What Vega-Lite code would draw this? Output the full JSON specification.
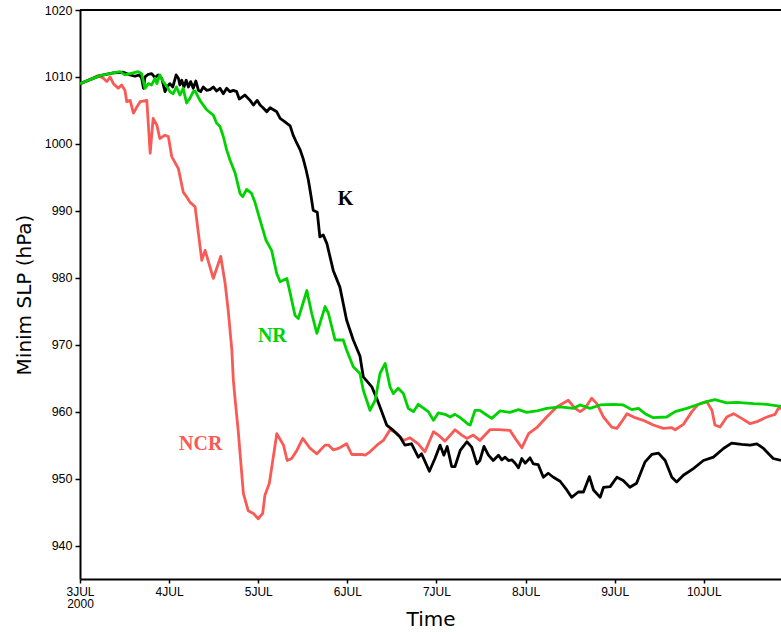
{
  "$schema": "https://vega.github.io/schema/vega-lite/v6.json",
  "width": 701,
  "height": 569,
  "autosize": {"type": "none"},
  "padding": {"left": 80, "top": 10, "right": 0, "bottom": 53},
  "background": "white",
  "config": {"view": {"stroke": null}, "font": "Liberation Sans"},
  "datasets": {
    "series": [
      {"run":"NCR","hour":0,"slp":1009.0},{"run":"NCR","hour":2.7,"slp":1009.6},{"run":"NCR","hour":4.0,"slp":1010.0},{"run":"NCR","hour":4.9,"slp":1010.2},{"run":"NCR","hour":6.3,"slp":1009.8},{"run":"NCR","hour":7.2,"slp":1009.3},{"run":"NCR","hour":8.1,"slp":1010.0},{"run":"NCR","hour":9.0,"slp":1009.0},{"run":"NCR","hour":10.3,"slp":1008.3},{"run":"NCR","hour":11.2,"slp":1008.8},{"run":"NCR","hour":12.1,"slp":1008.0},{"run":"NCR","hour":12.6,"slp":1006.3},{"run":"NCR","hour":13.5,"slp":1006.5},{"run":"NCR","hour":14.4,"slp":1004.6},{"run":"NCR","hour":15.3,"slp":1005.5},{"run":"NCR","hour":16.2,"slp":1006.3},{"run":"NCR","hour":18.0,"slp":1006.5},{"run":"NCR","hour":18.9,"slp":998.6},{"run":"NCR","hour":19.7,"slp":1003.8},{"run":"NCR","hour":20.7,"slp":1002.8},{"run":"NCR","hour":21.5,"slp":1000.8},{"run":"NCR","hour":22.9,"slp":1001.3},{"run":"NCR","hour":23.8,"slp":1001.1},{"run":"NCR","hour":24.7,"slp":998.1},{"run":"NCR","hour":26.5,"slp":996.3},{"run":"NCR","hour":27.8,"slp":992.8},{"run":"NCR","hour":28.7,"slp":992.1},{"run":"NCR","hour":29.6,"slp":991.3},{"run":"NCR","hour":31.0,"slp":990.6},{"run":"NCR","hour":31.9,"slp":986.6},{"run":"NCR","hour":32.8,"slp":982.6},{"run":"NCR","hour":33.7,"slp":984.1},{"run":"NCR","hour":35.9,"slp":979.9},{"run":"NCR","hour":37.9,"slp":983.2},{"run":"NCR","hour":39.1,"slp":979.1},{"run":"NCR","hour":39.9,"slp":975.2},{"run":"NCR","hour":40.9,"slp":969.2},{"run":"NCR","hour":41.3,"slp":964.7},{"run":"NCR","hour":41.8,"slp":961.7},{"run":"NCR","hour":42.6,"slp":957.2},{"run":"NCR","hour":44.0,"slp":947.8},{"run":"NCR","hour":45.3,"slp":945.2},{"run":"NCR","hour":46.7,"slp":944.8},{"run":"NCR","hour":48.0,"slp":944.0},{"run":"NCR","hour":49.2,"slp":944.8},{"run":"NCR","hour":49.8,"slp":947.5},{"run":"NCR","hour":51.0,"slp":949.3},{"run":"NCR","hour":53.0,"slp":956.7},{"run":"NCR","hour":54.8,"slp":955.0},{"run":"NCR","hour":55.8,"slp":952.7},{"run":"NCR","hour":57.0,"slp":953.0},{"run":"NCR","hour":58.4,"slp":954.2},{"run":"NCR","hour":60.0,"slp":956.0},{"run":"NCR","hour":62.0,"slp":954.5},{"run":"NCR","hour":63.8,"slp":953.7},{"run":"NCR","hour":66.0,"slp":955.0},{"run":"NCR","hour":66.9,"slp":955.0},{"run":"NCR","hour":68.2,"slp":954.3},{"run":"NCR","hour":69.6,"slp":954.5},{"run":"NCR","hour":71.8,"slp":955.2},{"run":"NCR","hour":73.2,"slp":953.6},{"run":"NCR","hour":75.9,"slp":953.6},{"run":"NCR","hour":76.8,"slp":953.5},{"run":"NCR","hour":78.1,"slp":954.0},{"run":"NCR","hour":80.4,"slp":955.2},{"run":"NCR","hour":81.7,"slp":955.7},{"run":"NCR","hour":83.5,"slp":957.3},{"run":"NCR","hour":85.3,"slp":956.8},{"run":"NCR","hour":87.1,"slp":955.7},{"run":"NCR","hour":88.9,"slp":956.1},{"run":"NCR","hour":91.1,"slp":955.2},{"run":"NCR","hour":92.9,"slp":954.0},{"run":"NCR","hour":95.2,"slp":957.0},{"run":"NCR","hour":96.5,"slp":956.5},{"run":"NCR","hour":98.3,"slp":955.6},{"run":"NCR","hour":101.0,"slp":957.3},{"run":"NCR","hour":102.8,"slp":956.5},{"run":"NCR","hour":104.2,"slp":956.0},{"run":"NCR","hour":105.9,"slp":956.5},{"run":"NCR","hour":107.7,"slp":955.7},{"run":"NCR","hour":110.4,"slp":957.3},{"run":"NCR","hour":112.7,"slp":957.3},{"run":"NCR","hour":115.8,"slp":957.2},{"run":"NCR","hour":117.6,"slp":955.7},{"run":"NCR","hour":119.0,"slp":954.6},{"run":"NCR","hour":120.8,"slp":956.7},{"run":"NCR","hour":123.0,"slp":957.6},{"run":"NCR","hour":125.7,"slp":959.2},{"run":"NCR","hour":128.4,"slp":960.7},{"run":"NCR","hour":131.5,"slp":961.7},{"run":"NCR","hour":133.3,"slp":960.5},{"run":"NCR","hour":134.7,"slp":960.0},{"run":"NCR","hour":136.0,"slp":960.5},{"run":"NCR","hour":137.8,"slp":962.0},{"run":"NCR","hour":139.2,"slp":961.2},{"run":"NCR","hour":141.0,"slp":959.2},{"run":"NCR","hour":143.2,"slp":957.7},{"run":"NCR","hour":144.6,"slp":957.5},{"run":"NCR","hour":145.9,"slp":958.5},{"run":"NCR","hour":147.3,"slp":959.7},{"run":"NCR","hour":149.5,"slp":959.1},{"run":"NCR","hour":151.7,"slp":958.7},{"run":"NCR","hour":154.4,"slp":958.0},{"run":"NCR","hour":157.1,"slp":957.5},{"run":"NCR","hour":159.4,"slp":957.6},{"run":"NCR","hour":160.3,"slp":957.3},{"run":"NCR","hour":162.5,"slp":958.1},{"run":"NCR","hour":164.8,"slp":960.0},{"run":"NCR","hour":166.5,"slp":961.1},{"run":"NCR","hour":168.8,"slp":961.5},{"run":"NCR","hour":170.2,"slp":960.2},{"run":"NCR","hour":171.0,"slp":958.0},{"run":"NCR","hour":172.4,"slp":957.7},{"run":"NCR","hour":174.2,"slp":959.2},{"run":"NCR","hour":176.0,"slp":959.7},{"run":"NCR","hour":178.2,"slp":959.0},{"run":"NCR","hour":180.5,"slp":958.2},{"run":"NCR","hour":182.3,"slp":958.5},{"run":"NCR","hour":185.0,"slp":959.2},{"run":"NCR","hour":187.2,"slp":959.6},{"run":"NCR","hour":188.1,"slp":960.5},{"run":"NCR","hour":188.8,"slp":960.5},
      {"run":"K","hour":0,"slp":1009.0},{"run":"K","hour":2.7,"slp":1009.6},{"run":"K","hour":5.4,"slp":1010.2},{"run":"K","hour":9.0,"slp":1010.6},{"run":"K","hour":11.7,"slp":1010.7},{"run":"K","hour":13.5,"slp":1010.3},{"run":"K","hour":14.8,"slp":1010.1},{"run":"K","hour":16.0,"slp":1010.3},{"run":"K","hour":16.6,"slp":1009.8},{"run":"K","hour":17.1,"slp":1008.3},{"run":"K","hour":17.5,"slp":1010.0},{"run":"K","hour":18.4,"slp":1010.4},{"run":"K","hour":19.3,"slp":1010.5},{"run":"K","hour":20.2,"slp":1009.9},{"run":"K","hour":21.1,"slp":1010.3},{"run":"K","hour":22.0,"slp":1009.8},{"run":"K","hour":22.9,"slp":1007.8},{"run":"K","hour":23.5,"slp":1008.5},{"run":"K","hour":24.2,"slp":1009.0},{"run":"K","hour":25.0,"slp":1008.5},{"run":"K","hour":25.9,"slp":1010.3},{"run":"K","hour":26.5,"slp":1009.8},{"run":"K","hour":26.9,"slp":1008.8},{"run":"K","hour":27.4,"slp":1009.5},{"run":"K","hour":28.0,"slp":1008.5},{"run":"K","hour":28.6,"slp":1009.5},{"run":"K","hour":29.2,"slp":1008.5},{"run":"K","hour":29.8,"slp":1009.3},{"run":"K","hour":30.5,"slp":1008.3},{"run":"K","hour":31.2,"slp":1009.4},{"run":"K","hour":31.9,"slp":1008.0},{"run":"K","hour":32.5,"slp":1007.8},{"run":"K","hour":33.2,"slp":1008.5},{"run":"K","hour":34.1,"slp":1008.0},{"run":"K","hour":35.0,"slp":1008.1},{"run":"K","hour":35.9,"slp":1008.5},{"run":"K","hour":36.8,"slp":1007.9},{"run":"K","hour":37.7,"slp":1008.3},{"run":"K","hour":38.6,"slp":1007.5},{"run":"K","hour":39.5,"slp":1008.3},{"run":"K","hour":40.4,"slp":1007.8},{"run":"K","hour":41.3,"slp":1008.0},{"run":"K","hour":42.2,"slp":1007.8},{"run":"K","hour":42.9,"slp":1006.7},{"run":"K","hour":44.4,"slp":1007.3},{"run":"K","hour":45.8,"slp":1006.5},{"run":"K","hour":46.7,"slp":1005.8},{"run":"K","hour":47.7,"slp":1006.5},{"run":"K","hour":48.5,"slp":1005.8},{"run":"K","hour":49.3,"slp":1005.4},{"run":"K","hour":50.3,"slp":1004.8},{"run":"K","hour":51.2,"slp":1005.4},{"run":"K","hour":53.0,"slp":1004.8},{"run":"K","hour":53.9,"slp":1003.8},{"run":"K","hour":55.2,"slp":1003.3},{"run":"K","hour":56.6,"slp":1002.7},{"run":"K","hour":57.4,"slp":1001.3},{"run":"K","hour":58.4,"slp":1000.1},{"run":"K","hour":59.3,"slp":999.1},{"run":"K","hour":60.1,"slp":997.8},{"run":"K","hour":60.9,"slp":996.1},{"run":"K","hour":61.5,"slp":994.6},{"run":"K","hour":62.2,"slp":992.3},{"run":"K","hour":62.8,"slp":990.1},{"run":"K","hour":63.9,"slp":989.8},{"run":"K","hour":64.6,"slp":986.1},{"run":"K","hour":65.5,"slp":986.4},{"run":"K","hour":66.5,"slp":985.1},{"run":"K","hour":68.2,"slp":981.1},{"run":"K","hour":70.0,"slp":978.6},{"run":"K","hour":71.8,"slp":973.7},{"run":"K","hour":73.6,"slp":970.7},{"run":"K","hour":75.4,"slp":968.3},{"run":"K","hour":76.3,"slp":965.2},{"run":"K","hour":78.6,"slp":963.7},{"run":"K","hour":79.9,"slp":962.0},{"run":"K","hour":80.8,"slp":960.7},{"run":"K","hour":82.6,"slp":958.0},{"run":"K","hour":84.4,"slp":957.2},{"run":"K","hour":86.2,"slp":956.2},{"run":"K","hour":87.5,"slp":955.0},{"run":"K","hour":89.3,"slp":955.2},{"run":"K","hour":91.1,"slp":953.2},{"run":"K","hour":92.0,"slp":953.7},{"run":"K","hour":94.1,"slp":951.1},{"run":"K","hour":95.6,"slp":953.0},{"run":"K","hour":97.0,"slp":955.0},{"run":"K","hour":98.0,"slp":953.5},{"run":"K","hour":98.9,"slp":954.8},{"run":"K","hour":100.1,"slp":951.8},{"run":"K","hour":101.0,"slp":951.8},{"run":"K","hour":102.4,"slp":954.2},{"run":"K","hour":104.2,"slp":955.5},{"run":"K","hour":105.5,"slp":954.7},{"run":"K","hour":106.9,"slp":952.2},{"run":"K","hour":107.7,"slp":952.7},{"run":"K","hour":108.8,"slp":954.8},{"run":"K","hour":110.0,"slp":953.5},{"run":"K","hour":111.3,"slp":952.7},{"run":"K","hour":112.7,"slp":953.5},{"run":"K","hour":113.6,"slp":952.8},{"run":"K","hour":114.5,"slp":953.2},{"run":"K","hour":115.4,"slp":952.7},{"run":"K","hour":116.3,"slp":952.8},{"run":"K","hour":117.2,"slp":952.3},{"run":"K","hour":118.1,"slp":951.6},{"run":"K","hour":119.0,"slp":953.0},{"run":"K","hour":119.9,"slp":952.3},{"run":"K","hour":121.2,"slp":953.1},{"run":"K","hour":122.1,"slp":952.2},{"run":"K","hour":123.4,"slp":952.1},{"run":"K","hour":124.8,"slp":950.2},{"run":"K","hour":126.1,"slp":950.8},{"run":"K","hour":127.5,"slp":950.2},{"run":"K","hour":129.3,"slp":949.6},{"run":"K","hour":131.1,"slp":948.3},{"run":"K","hour":132.4,"slp":947.2},{"run":"K","hour":134.2,"slp":948.0},{"run":"K","hour":135.6,"slp":948.0},{"run":"K","hour":137.2,"slp":950.3},{"run":"K","hour":138.3,"slp":948.3},{"run":"K","hour":140.1,"slp":947.2},{"run":"K","hour":141.0,"slp":948.7},{"run":"K","hour":142.8,"slp":948.8},{"run":"K","hour":144.6,"slp":950.2},{"run":"K","hour":146.3,"slp":949.7},{"run":"K","hour":148.1,"slp":948.7},{"run":"K","hour":149.9,"slp":949.3},{"run":"K","hour":152.2,"slp":952.5},{"run":"K","hour":154.0,"slp":953.6},{"run":"K","hour":155.8,"slp":953.8},{"run":"K","hour":157.6,"slp":952.7},{"run":"K","hour":159.4,"slp":950.2},{"run":"K","hour":160.7,"slp":949.5},{"run":"K","hour":162.5,"slp":950.5},{"run":"K","hour":165.2,"slp":951.5},{"run":"K","hour":167.9,"slp":952.7},{"run":"K","hour":170.6,"slp":953.2},{"run":"K","hour":173.3,"slp":954.5},{"run":"K","hour":175.5,"slp":955.3},{"run":"K","hour":178.2,"slp":955.1},{"run":"K","hour":180.5,"slp":955.0},{"run":"K","hour":182.3,"slp":955.2},{"run":"K","hour":184.1,"slp":954.5},{"run":"K","hour":186.7,"slp":953.0},{"run":"K","hour":188.8,"slp":952.7},
      {"run":"NR","hour":0,"slp":1009.0},{"run":"NR","hour":2.7,"slp":1009.6},{"run":"NR","hour":5.4,"slp":1010.2},{"run":"NR","hour":9.0,"slp":1010.6},{"run":"NR","hour":10.8,"slp":1010.8},{"run":"NR","hour":12.1,"slp":1010.3},{"run":"NR","hour":13.5,"slp":1010.5},{"run":"NR","hour":15.7,"slp":1010.8},{"run":"NR","hour":16.6,"slp":1010.5},{"run":"NR","hour":17.5,"slp":1008.3},{"run":"NR","hour":18.4,"slp":1009.0},{"run":"NR","hour":19.3,"slp":1008.8},{"run":"NR","hour":20.2,"slp":1009.8},{"run":"NR","hour":20.7,"slp":1009.0},{"run":"NR","hour":21.5,"slp":1010.3},{"run":"NR","hour":22.4,"slp":1009.3},{"run":"NR","hour":23.5,"slp":1008.5},{"run":"NR","hour":24.2,"slp":1007.8},{"run":"NR","hour":25.1,"slp":1007.5},{"run":"NR","hour":26.0,"slp":1008.5},{"run":"NR","hour":26.9,"slp":1007.3},{"run":"NR","hour":27.8,"slp":1008.3},{"run":"NR","hour":28.7,"slp":1006.1},{"run":"NR","hour":29.6,"slp":1006.8},{"run":"NR","hour":30.5,"slp":1007.8},{"run":"NR","hour":31.0,"slp":1007.9},{"run":"NR","hour":32.3,"slp":1006.5},{"run":"NR","hour":34.1,"slp":1005.1},{"run":"NR","hour":35.9,"slp":1004.3},{"run":"NR","hour":36.8,"slp":1003.1},{"run":"NR","hour":37.7,"slp":1002.6},{"run":"NR","hour":38.6,"slp":1001.1},{"run":"NR","hour":39.5,"slp":999.1},{"run":"NR","hour":40.4,"slp":997.6},{"run":"NR","hour":41.8,"slp":995.6},{"run":"NR","hour":43.1,"slp":992.6},{"run":"NR","hour":43.8,"slp":992.1},{"run":"NR","hour":44.9,"slp":993.2},{"run":"NR","hour":46.2,"slp":992.6},{"run":"NR","hour":47.1,"slp":991.3},{"run":"NR","hour":48.5,"slp":988.6},{"run":"NR","hour":50.1,"slp":985.6},{"run":"NR","hour":51.6,"slp":984.1},{"run":"NR","hour":53.0,"slp":980.6},{"run":"NR","hour":53.9,"slp":979.4},{"run":"NR","hour":55.7,"slp":979.9},{"run":"NR","hour":56.6,"slp":977.7},{"run":"NR","hour":57.9,"slp":974.4},{"run":"NR","hour":58.8,"slp":973.9},{"run":"NR","hour":61.1,"slp":978.1},{"run":"NR","hour":62.4,"slp":974.7},{"run":"NR","hour":63.8,"slp":971.7},{"run":"NR","hour":66.0,"slp":975.7},{"run":"NR","hour":66.9,"slp":974.7},{"run":"NR","hour":68.7,"slp":970.7},{"run":"NR","hour":70.9,"slp":970.7},{"run":"NR","hour":71.8,"slp":969.2},{"run":"NR","hour":73.6,"slp":966.7},{"run":"NR","hour":75.4,"slp":965.7},{"run":"NR","hour":76.3,"slp":963.2},{"run":"NR","hour":78.1,"slp":960.2},{"run":"NR","hour":79.5,"slp":961.7},{"run":"NR","hour":80.8,"slp":965.7},{"run":"NR","hour":82.2,"slp":967.2},{"run":"NR","hour":83.5,"slp":963.7},{"run":"NR","hour":84.4,"slp":962.7},{"run":"NR","hour":85.7,"slp":963.5},{"run":"NR","hour":87.1,"slp":962.7},{"run":"NR","hour":88.4,"slp":960.5},{"run":"NR","hour":89.8,"slp":960.0},{"run":"NR","hour":91.1,"slp":961.1},{"run":"NR","hour":93.8,"slp":960.0},{"run":"NR","hour":95.2,"slp":958.7},{"run":"NR","hour":96.5,"slp":959.8},{"run":"NR","hour":98.3,"slp":959.6},{"run":"NR","hour":99.7,"slp":959.2},{"run":"NR","hour":101.0,"slp":959.6},{"run":"NR","hour":102.4,"slp":959.1},{"run":"NR","hour":104.6,"slp":958.1},{"run":"NR","hour":105.1,"slp":958.0},{"run":"NR","hour":106.4,"slp":960.2},{"run":"NR","hour":107.7,"slp":960.2},{"run":"NR","hour":109.5,"slp":959.5},{"run":"NR","hour":110.9,"slp":959.0},{"run":"NR","hour":113.1,"slp":960.1},{"run":"NR","hour":115.8,"slp":959.9},{"run":"NR","hour":118.1,"slp":960.3},{"run":"NR","hour":120.3,"slp":959.9},{"run":"NR","hour":123.0,"slp":960.1},{"run":"NR","hour":125.7,"slp":960.5},{"run":"NR","hour":129.3,"slp":960.7},{"run":"NR","hour":132.9,"slp":960.5},{"run":"NR","hour":134.7,"slp":961.0},{"run":"NR","hour":137.4,"slp":960.5},{"run":"NR","hour":140.1,"slp":961.0},{"run":"NR","hour":143.7,"slp":961.1},{"run":"NR","hour":146.3,"slp":961.0},{"run":"NR","hour":148.6,"slp":960.3},{"run":"NR","hour":150.4,"slp":960.5},{"run":"NR","hour":152.2,"slp":959.7},{"run":"NR","hour":154.4,"slp":959.1},{"run":"NR","hour":158.0,"slp":959.2},{"run":"NR","hour":160.3,"slp":960.0},{"run":"NR","hour":163.4,"slp":960.5},{"run":"NR","hour":166.1,"slp":961.0},{"run":"NR","hour":168.8,"slp":961.5},{"run":"NR","hour":171.0,"slp":961.8},{"run":"NR","hour":174.2,"slp":961.3},{"run":"NR","hour":176.9,"slp":961.4},{"run":"NR","hour":181.4,"slp":961.2},{"run":"NR","hour":185.0,"slp":961.1},{"run":"NR","hour":188.8,"slp":960.8}
    ],
    "labels": [
      {"run": "K", "hour": 71.5, "slp": 991.8},
      {"run": "NR", "hour": 51.8, "slp": 971.3},
      {"run": "NCR", "hour": 32.5, "slp": 955.1}
    ],
    "frame": [
      {"slp": 1020}
    ]
  },
  "layer": [
    {
      "data": {"name": "series"},
      "mark": {"type": "line", "strokeWidth": 2.8, "strokeJoin": "round", "clip": true},
      "encoding": {
        "x": {
          "field": "hour",
          "type": "quantitative",
          "scale": {"domain": [0, 188.8], "nice": false, "zero": false},
          "axis": {
            "values": [0, 24, 48, 72, 96, 120, 144, 168],
            "labelExpr": "datum.value == 0 ? ['3JUL', '2000'] : (datum.value / 24 + 3) + 'JUL'",
            "title": "Time",
            "titleFont": "DejaVu Sans",
            "titleFontSize": 20,
            "titleFontWeight": "normal",
            "titleColor": "black",
            "titlePadding": 0,
            "labelFont": "Liberation Sans",
            "labelFontSize": 12,
            "labelColor": "black",
            "labelPadding": 3,
            "labelLineHeight": 12.5,
            "labelFlush": false,
            "labelOverlap": false,
            "tickSize": 4,
            "tickColor": "black",
            "tickWidth": 1.5,
            "domainColor": "black",
            "domainWidth": 2,
            "grid": false
          }
        },
        "y": {
          "field": "slp",
          "type": "quantitative",
          "scale": {"domain": [935, 1020], "nice": false, "zero": false},
          "axis": {
            "values": [940, 950, 960, 970, 980, 990, 1000, 1010, 1020],
            "format": "d",
            "title": "Minim SLP (hPa)",
            "titleFont": "DejaVu Sans",
            "titleFontSize": 20,
            "titleFontWeight": "normal",
            "titleColor": "black",
            "titlePadding": 10,
            "labelFont": "Liberation Sans",
            "labelFontSize": 12.5,
            "labelColor": "black",
            "labelPadding": 3,
            "tickSize": 5,
            "tickColor": "black",
            "tickWidth": 1.5,
            "domainColor": "black",
            "domainWidth": 2,
            "grid": false
          }
        },
        "color": {
          "field": "run",
          "type": "nominal",
          "scale": {"domain": ["K", "NR", "NCR"], "range": ["#000000", "#00d200", "#fa5a55"]},
          "legend": null
        }
      }
    },
    {
      "data": {"name": "frame"},
      "mark": {"type": "rule", "color": "black", "strokeWidth": 2},
      "encoding": {"y": {"field": "slp", "type": "quantitative"}}
    },
    {
      "data": {"name": "labels"},
      "mark": {"type": "text", "font": "Liberation Serif", "fontWeight": "bold", "fontSize": 20, "align": "center", "baseline": "middle"},
      "encoding": {
        "x": {"field": "hour", "type": "quantitative"},
        "y": {"field": "slp", "type": "quantitative"},
        "text": {"field": "run", "type": "nominal"},
        "color": {"field": "run", "type": "nominal"}
      }
    }
  ]
}
